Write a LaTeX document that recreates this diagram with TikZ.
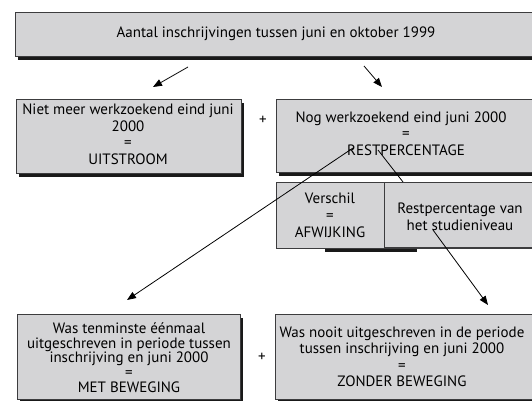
\documentclass[tikz,border=0pt]{standalone}
\usepackage{fontspec}
\setmainfont{PT Sans}
\usetikzlibrary{arrows.meta}
\definecolor{boxgray}{RGB}{212,212,214}
\definecolor{edgegray}{RGB}{60,60,62}
\definecolor{shadowc}{RGB}{25,25,25}
\tikzset{
  panel/.style={fill=boxgray, draw=edgegray, line width=0.8pt},
  shade/.style={fill=shadowc, draw=none},
  txt/.style={align=center, inner sep=0pt, font=\fontsize{15}{16.5}\selectfont, text=black},
  arr/.style={line width=0.8pt, -{Triangle[length=9pt,width=7pt]}},
  plain/.style={line width=0.8pt}
}
\begin{document}
\begin{tikzpicture}[x=1pt,y=-1pt]
\clip (0,0) rectangle (532,401);
\fill[white] (0,0) rectangle (532,401);
% top box
\fill[shade] (18,16) rectangle (566,60);
\draw[panel] (15,12) rectangle (563,56);
\node[txt] (top) at (276,34) {Aantal inschrijvingen tussen juni en oktober 1999};
% second row
\fill[shade] (19,103) rectangle (244,177);
\draw[panel] (16,99) rectangle (241,173);
\node[txt] (niet) at (128,134.5) {Niet meer werkzoekend eind juni\\2000\\=\\UITSTROOM};
\node[txt] (plus1) at (263,120) {+};
\fill[shade] (279,103) rectangle (566,176);
\draw[panel] (276,99) rectangle (563,172);
\node[txt] (nog) at (401,119) {Nog werkzoekend eind juni 2000};
\node[txt] (nogeq) at (406,135) {=};
\node[txt] (rest) at (406,150) {RESTPERCENTAGE};
% third row
\fill[shade] (325,247) rectangle (417,252);
\draw[panel] (276,182) rectangle (563,248);
\draw[panel] (384,182) -- (384,248);
\draw[edgegray, line width=1.6pt] (384,248) -- (563,248);
\node[txt, font=\fontsize{15}{17}\selectfont] (versch) at (330,215) {Verschil\\=\\AFWIJKING};
\node[txt, font=\fontsize{15}{17}\selectfont] (restniv) at (460,216.5) {Restpercentage van\\het studieniveau};
% bottom row
\fill[shade] (20,318) rectangle (243,405);
\draw[panel] (17,314) rectangle (240,399);
\node[txt, font=\fontsize{15}{14.8}\selectfont] (met) at (129,357.5) {Was tenminste éénmaal\\uitgeschreven in periode tussen\\inschrijving en juni 2000\\=\\MET BEWEGING};
\node[txt] (plus2) at (262,357) {+};
\fill[shade] (278,318) rectangle (566,405);
\draw[panel] (275,314) rectangle (563,399);
\node[txt] (zonder) at (402,357) {Was nooit uitgeschreven in de periode\\tussen inschrijving en juni 2000\\=\\ZONDER BEWEGING};
% connectors
\coordinate (l1) at (188,67);
\coordinate (l2) at (153,87);
\coordinate (r1) at (364,66);
\coordinate (r2) at (382,87);
\coordinate (c1) at (353,148);
\coordinate (c2) at (127,300);
\coordinate (d1) at (378,150);
\coordinate (d2) at (403,182);
\coordinate (e1) at (433,230);
\coordinate (e2) at (488,305);
\draw[arr] (l1) -- (l2);
\draw[arr] (r1) -- (r2);
\draw[arr] (c1) -- (c2);
\draw[plain] (d1) -- (d2);
\draw[arr] (e1) -- (e2);
\end{tikzpicture}
\end{document}
